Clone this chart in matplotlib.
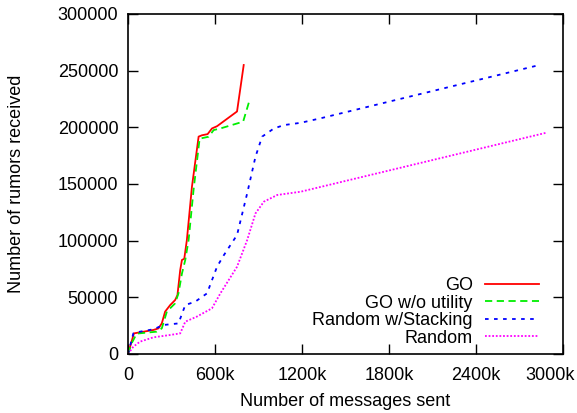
import matplotlib
matplotlib.use("Agg")
import matplotlib.pyplot as plt
from matplotlib.ticker import FuncFormatter
from matplotlib.transforms import ScaledTranslation

plt.rcParams['font.family'] = ['Liberation Sans', 'DejaVu Sans']

# messages sent (thousands) / rumors received
go_x = [0, 41, 175, 210, 233, 256, 291, 325, 341, 360, 372, 388, 406, 441, 487, 510, 549, 579, 614, 752, 798]
go_y = [0, 18200, 21200, 22600, 27000, 37400, 43200, 47600, 52000, 74000, 83000, 84000, 100600, 147600,
        191800, 193000, 194000, 199000, 201000, 214000, 255000]

gnu_x = [0, 25, 60, 198, 233, 268, 325, 348, 372, 395, 418, 452, 494, 556, 591, 637, 794, 833]
gnu_y = [0, 9400, 18000, 19700, 22600, 37400, 44700, 53500, 71000, 83000, 100600, 144700, 190000,
         191700, 197600, 199000, 205000, 221700]

rs_x = [0, 37, 83, 175, 245, 348, 395, 464, 545, 614, 660, 752, 822, 879, 925, 1006, 1076, 1191, 1329, 2838]
rs_y = [0, 18200, 19700, 21800, 25600, 27000, 43200, 46200, 53500, 77000, 87000, 105000, 141800,
        174000, 191800, 199000, 202000, 204000, 208000, 255000]

rnd_x = [0, 37, 83, 175, 291, 360, 395, 475, 579, 637, 752, 822, 879, 937, 1029, 1191, 2887]
rnd_y = [0, 6500, 10900, 14700, 16800, 18200, 28500, 33000, 40300, 53500, 77000, 100600, 124000,
         134400, 140300, 143200, 195300]

fig = plt.figure(figsize=(5.77, 4.13), dpi=100)
ax = fig.add_axes([128 / 577, 1 - 354 / 413, 435 / 577, 340 / 413])

k = 1000
ax.plot([v * k for v in go_x], go_y, color='#ff0000', lw=1.3, label='GO')
ax.plot([v * k for v in gnu_x], gnu_y, color='#00ee00', lw=1.3, ls=(0, (4, 2.5)), label='GO w/o utility')
ax.plot([v * k for v in rs_x], rs_y, color='#0000ff', lw=1.3, ls=(0, (2, 3)), label='Random w/Stacking')
ax.plot([v * k for v in rnd_x], rnd_y, color='#ff00ff', lw=1.3, ls=(0, (1, 1)), label='Random')

ax.set_xlim(0, 3000000)
ax.set_ylim(0, 300000)
ax.set_xticks(range(0, 3000001, 600000))
ax.set_yticks(range(0, 300001, 50000))
ax.xaxis.set_major_formatter(FuncFormatter(lambda v, p: '0' if v == 0 else f'{v / 1000:.0f}k'))
ax.tick_params(direction='in', top=True, right=True, length=7, width=1, labelsize=13)
ax.tick_params(axis='x', pad=9)
ax.tick_params(axis='y', pad=7)
for s in ax.spines.values():
    s.set_linewidth(1.2)

# last x label pulled inward so it fits
last = ax.get_xticklabels()[-1]
last.set_transform(last.get_transform() + ScaledTranslation(-0.13, 0, fig.dpi_scale_trans))

ax.set_xlabel('Number of messages sent', fontsize=13)
ax.set_ylabel('Number of rumors received', fontsize=13)
ax.xaxis.set_label_coords(0.5, -0.115)
ax.yaxis.set_label_coords(-0.236, 0.5)

ax.legend(loc='lower right', bbox_to_anchor=(0.945, 0.022), frameon=False, markerfirst=False,
          fontsize=13, handlelength=3.0, handletextpad=0.67, labelspacing=0.02, borderpad=0,
          borderaxespad=0)

fig.savefig('out.png', dpi=100)
